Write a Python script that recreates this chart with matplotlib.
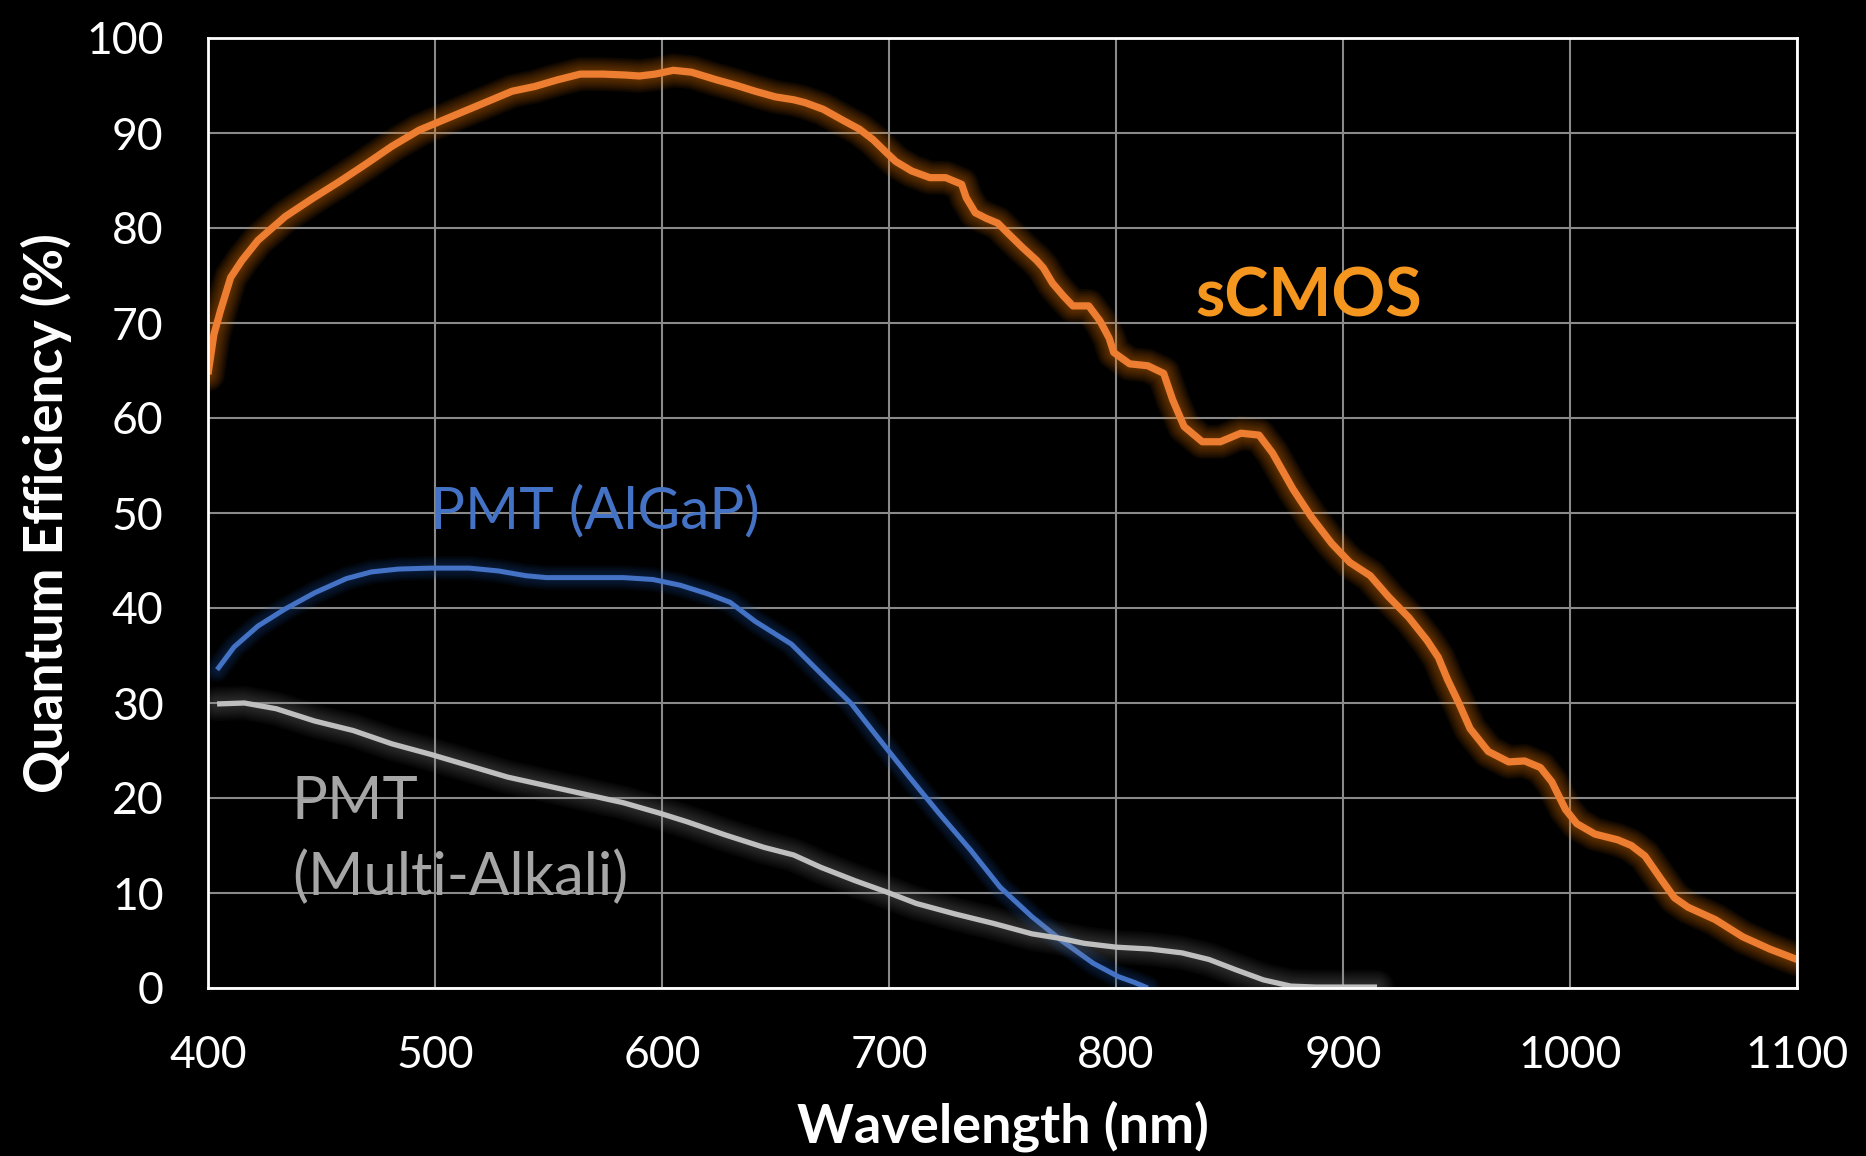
import matplotlib
matplotlib.use("Agg")
import matplotlib.pyplot as plt

plt.rcParams['font.family'] = ['Lato', 'DejaVu Sans']

# ---------------- data ----------------
scmos_nm = [400, 402.6, 405.5, 410, 415, 422, 434, 446, 458, 470, 481, 493, 500, 513, 525,
            534, 544, 554, 564, 574, 584, 590, 597, 605, 613, 624, 633, 641, 650, 658, 663,
            671, 680, 687, 693, 699, 703, 710, 718, 725, 732, 734, 738, 743, 748, 753, 759,
            765, 768, 772, 777, 781, 788, 793, 797, 799, 806, 814, 821, 825, 830, 838, 846,
            855, 863, 869, 878, 886, 895, 903, 912, 920, 929, 937, 942, 946, 951, 956, 964,
            973, 980, 987, 992, 998, 1003, 1011, 1021, 1027, 1033, 1040, 1046, 1052, 1064,
            1076, 1088, 1100]
scmos_qe = [64.6, 68.8, 71.3, 74.8, 76.6, 78.7, 81.2, 83.1, 84.9, 86.8, 88.6, 90.3, 91.0, 92.3, 93.5,
            94.4, 94.9, 95.6, 96.2, 96.2, 96.1, 96.0, 96.2, 96.6, 96.4, 95.6, 95.0, 94.4, 93.8, 93.5, 93.2,
            92.5, 91.3, 90.4, 89.3, 87.9, 87.0, 86.0, 85.3, 85.3, 84.6, 83.2, 81.6, 81.0, 80.5, 79.3, 77.9,
            76.6, 75.8, 74.2, 72.8, 71.8, 71.8, 70.2, 68.4, 66.9, 65.7, 65.5, 64.7, 61.9, 59.1, 57.5, 57.5,
            58.4, 58.2, 56.3, 52.5, 49.6, 46.8, 44.8, 43.4, 41.2, 39.0, 36.6, 34.8, 32.5, 30.0, 27.3, 24.9,
            23.8, 23.9, 23.2, 21.7, 18.8, 17.3, 16.2, 15.6, 15.0, 13.9, 11.5, 9.5, 8.5, 7.2,
            5.4, 4.1, 3.0]

algap_nm = [404, 411.5, 422, 434, 447, 461, 472, 484, 498, 515, 528, 540, 549, 566, 583, 596,
            608, 620, 630, 641, 657, 670, 683.5, 695, 709, 722, 736, 749, 763, 776, 790, 801,
            808, 814]
algap_qe = [33.5, 35.9, 38.1, 39.9, 41.6, 43.1, 43.8, 44.1, 44.2, 44.2, 43.9, 43.4, 43.2, 43.2, 43.2, 43.0,
            42.4, 41.5, 40.6, 38.6, 36.2, 33.1, 29.9, 26.4, 22.2, 18.4, 14.5, 10.6, 7.5, 5.0, 2.6, 1.2,
            0.6, 0.0]

malk_nm = [404, 416, 430, 447, 464, 481, 498, 515, 532, 549, 566, 583, 599, 611, 628, 645, 658,
           670, 685, 699, 712, 729, 746, 763, 776, 786, 800, 815, 829, 841, 853, 865, 877, 888, 915]
malk_qe = [29.9, 30.0, 29.4, 28.1, 27.1, 25.7, 24.6, 23.4, 22.2, 21.3, 20.4, 19.5, 18.4, 17.5, 16.1, 14.8, 14.0,
           12.7, 11.3, 10.1, 8.9, 7.8, 6.8, 5.7, 5.2, 4.7, 4.3, 4.1, 3.7, 3.0, 1.9, 0.85, 0.2, 0.1, 0.1]

x_ticks = [400, 500, 600, 700, 800, 900, 1000, 1100]
y_ticks = [0, 10, 20, 30, 40, 50, 60, 70, 80, 90, 100]

# ---------------- figure ----------------
fig = plt.figure(figsize=(18.66, 11.56), dpi=100, facecolor='black')
ax = fig.add_axes([208 / 1866, 1 - 988 / 1156, (1797 - 208) / 1866, (988 - 38) / 1156])
ax.set_facecolor('black')


def glow_plot(x, y, color, lw, glow_color, n=8, spread=2.2, alpha=0.05, z=3):
    for i in range(n, 0, -1):
        ax.plot(x, y, color=glow_color, lw=lw + i * spread, alpha=alpha,
                solid_capstyle='round', solid_joinstyle='round', zorder=z)
    ax.plot(x, y, color=color, lw=lw, solid_capstyle='butt',
            solid_joinstyle='round', zorder=z + 0.5)


glow_plot(algap_nm, algap_qe, '#4472C4', 3.6, '#1F4E9A', n=7, spread=2.0, alpha=0.06, z=3)
glow_plot(malk_nm, malk_qe, '#BFBFBF', 3.8, '#9A9A9A', n=8, spread=2.6, alpha=0.04, z=4)
glow_plot(scmos_nm, scmos_qe, '#ED7D31', 5.2, '#F07A10', n=8, spread=2.4, alpha=0.06, z=5)

ax.set_xlim(400, 1100)
ax.set_ylim(0, 100)
ax.set_xticks(x_ticks)
ax.set_yticks(y_ticks)
ax.set_xticklabels([str(v) for v in x_ticks])
ax.set_yticklabels([str(v) for v in y_ticks])

ax.grid(True, color='#8A8A8A', lw=1.5, zorder=1)
ax.set_axisbelow(True)
for s in ax.spines.values():
    s.set_color('white')
    s.set_linewidth(2.0)
    s.set_zorder(6)

ax.tick_params(axis='both', length=0, colors='white', labelsize=32)
ax.tick_params(axis='x', pad=34)
ax.tick_params(axis='y', pad=32)

ax.set_xlabel('Wavelength (nm)', color='white', fontsize=39, fontweight='bold', labelpad=17)
ax.set_ylabel('Quantum Efficiency (%)', color='white', fontsize=38.5, fontweight='bold', labelpad=10)

ax.text(834.8, 70.7, 'sCMOS', color='#F5961E', fontsize=48, fontweight='bold',
        ha='left', va='baseline', zorder=7)
ax.text(498, 48.4, 'PMT (AlGaP)', color='#4472C4', fontsize=42,
        ha='left', va='baseline', zorder=7)
ax.text(437, 9.8, 'PMT\n(Multi-Alkali)', color='#A6A6A6', fontsize=43,
        ha='left', va='baseline', linespacing=1.45, zorder=7)

fig.savefig('out.png', dpi=100, facecolor='black')
